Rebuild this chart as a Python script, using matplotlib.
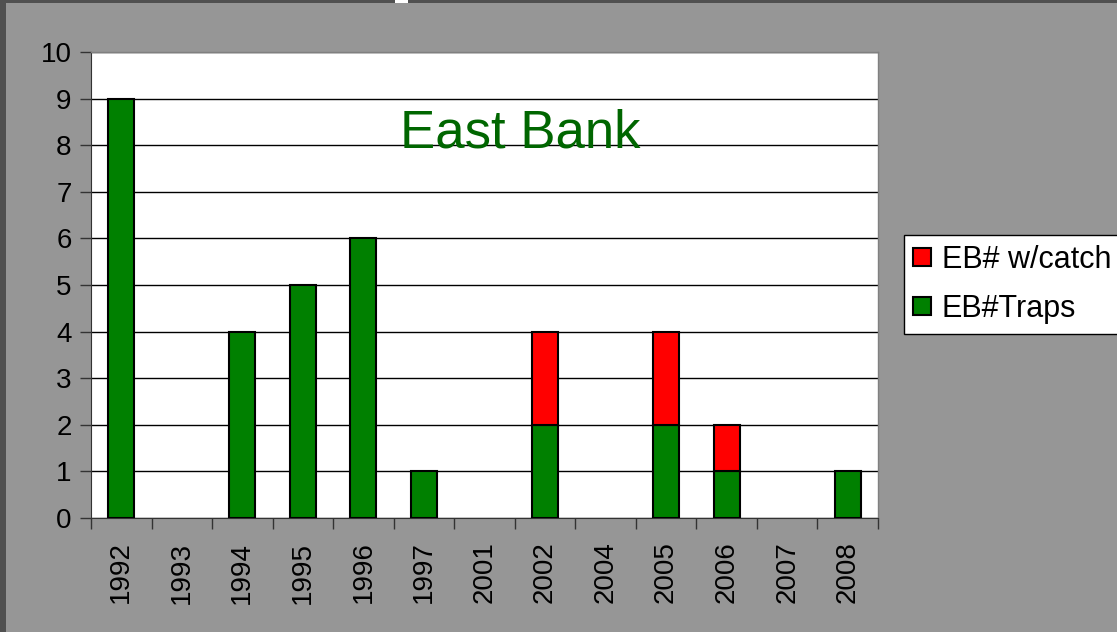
import matplotlib
matplotlib.use("Agg")
import matplotlib.pyplot as plt
from matplotlib.patches import Rectangle
from matplotlib.lines import Line2D
import numpy as np

plt.rcParams['font.family'] = ['Liberation Sans', 'DejaVu Sans']

years = ["1992", "1993", "1994", "1995", "1996", "1997", "2001",
         "2002", "2004", "2005", "2006", "2007", "2008"]
traps = [9, 0, 4, 5, 6, 1, 0, 2, 0, 2, 1, 0, 1]
with_catch = [0, 0, 0, 0, 0, 0, 0, 2, 0, 2, 1, 0, 0]
y_ticks = list(range(0, 11))

W, H = 1117, 632
fig = plt.figure(figsize=(W / 100, H / 100), dpi=100, facecolor='#969696')

# frame edges of the chart area
fig.patches.append(Rectangle((0, 0), 6 / W, 1, transform=fig.transFigure,
                             facecolor='#505050', edgecolor='none', zorder=0))
fig.patches.append(Rectangle((0, 1 - 3 / H), 1, 3 / H, transform=fig.transFigure,
                             facecolor='#505050', edgecolor='none', zorder=0))
fig.patches.append(Rectangle((395 / W, 1 - 3 / H), 13 / W, 3 / H, transform=fig.transFigure,
                             facecolor='white', edgecolor='none', zorder=1))

ax = fig.add_axes([91 / W, (H - 518) / H, 787 / W, 466 / H])
ax.set_facecolor('white')

x = np.arange(len(years))
traps_a = np.array(traps)
catch_a = np.array(with_catch)
bw = 0.43
green = '#008000'
red = '#FF0000'
m_t = traps_a > 0
ax.bar(x[m_t], traps_a[m_t], width=bw, color=green, edgecolor='black',
       linewidth=1.5, zorder=3)
m_c = catch_a > 0
ax.bar(x[m_c], catch_a[m_c], bottom=traps_a[m_c], width=bw,
       color=red, edgecolor='black', linewidth=1.5, zorder=3)

ax.set_xlim(-0.5, len(years) - 0.5)
ax.set_ylim(0, 10)
ax.set_yticks(y_ticks)
ax.set_yticklabels([str(v) for v in y_ticks], fontsize=20)
ax.yaxis.grid(True, color='black', linewidth=1.0, zorder=1)
ax.set_axisbelow(True)

ax.set_xticks(x)
ax.set_xticklabels(years, rotation=90, fontsize=20)
ax.tick_params(axis='x', length=0, pad=17)
ax.set_xticks(np.arange(-0.5, len(years), 1.0), minor=True)
ax.tick_params(axis='x', which='minor', length=8, width=1, color='#333333', direction='out')
ax.tick_params(axis='y', length=8, width=1, color='#333333', direction='out', pad=6)

for side in ['top', 'right']:
    ax.spines[side].set_color('#808080')
    ax.spines[side].set_linewidth(1.0)
ax.spines['left'].set_color('#333333')
ax.spines['bottom'].set_color('#333333')

ax.text(0.5455, 0.794, "East Bank", transform=ax.transAxes, ha='center', va='baseline',
        fontsize=38, color='#006600')

handles = [
    Line2D([], [], marker='s', linestyle='none', markersize=13, markerfacecolor=red,
           markeredgecolor='black', markeredgewidth=1.5),
    Line2D([], [], marker='s', linestyle='none', markersize=13, markerfacecolor=green,
           markeredgecolor='black', markeredgewidth=1.5),
]
leg = fig.legend(handles, ["EB# w/catch", "EB#Traps"], loc='upper left',
                 bbox_to_anchor=(904 / W, 1 - 235 / H), fontsize=22, frameon=True,
                 fancybox=False, edgecolor='black', facecolor='white', framealpha=1,
                 handlelength=0.55, handletextpad=0.35, borderpad=0.33, labelspacing=0.62,
                 borderaxespad=0)
leg.get_frame().set_linewidth(1.0)

fig.savefig('out.png', dpi=100, facecolor=fig.get_facecolor())
